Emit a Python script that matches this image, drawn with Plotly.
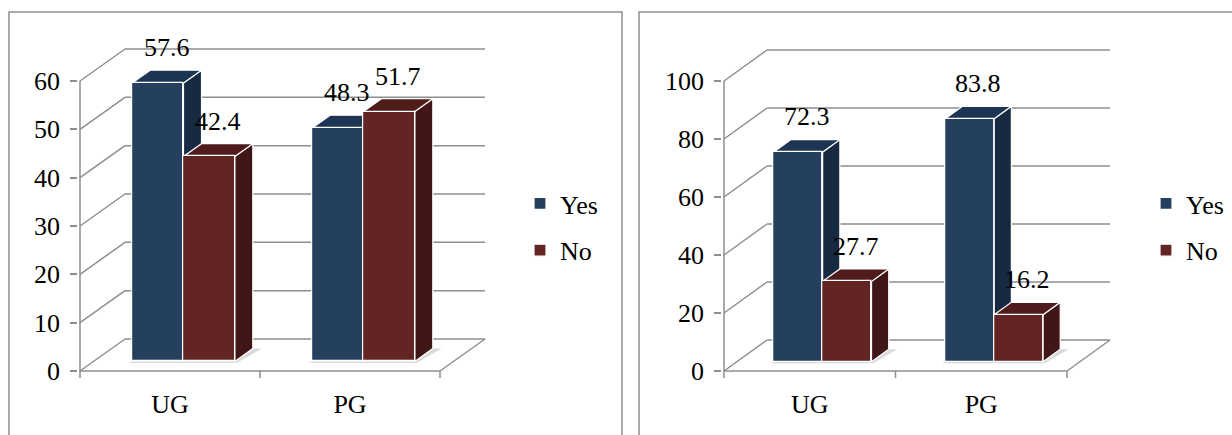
import plotly.graph_objects as go

W, H = 1232, 435

# ---- data -------------------------------------------------------------
categories = ["UG", "PG"]
series_names = ["Yes", "No"]

left_yes = [57.6, 48.3]
left_no = [42.4, 51.7]
left_ticks = [0, 10, 20, 30, 40, 50, 60]

right_yes = [72.3, 83.8]
right_no = [27.7, 16.2]
right_ticks = [0, 20, 40, 60, 80, 100]

# ---- style ------------------------------------------------------------
FONT = "Liberation Serif"
GRID = "#8e8e8e"
FRONT = {"Yes": "#25405f", "No": "#632523"}
TOP = {"Yes": "#1e3453", "No": "#4f1c1b"}
SIDE = {"Yes": "#172a42", "No": "#411616"}
FONT_SIZE = 26
TEXT_FONT = dict(family=FONT, size=FONT_SIZE, color="black")

fig = go.Figure()
shapes = []
annotations = []
layout_axes = {}


def line(xa, ya, x0, y0, x1, y1, width=1.5, color=GRID):
    return dict(type="line", xref=xa, yref=ya, x0=x0, y0=y0, x1=x1, y1=y1,
                line=dict(color=color, width=width), layer="below")


def poly(xa, ya, pts, fill):
    path = "M " + " L ".join(f"{x},{y}" for x, y in pts) + " Z"
    return dict(type="path", xref=xa, yref=ya, path=path, fillcolor=fill,
                line=dict(color="white", width=1.2), layer="below")


def panel(idx, yes, no, ticks, x0px, sx, y0px, sy, dxpx, dypx, legend_name, legend_x):
    """A pseudo-3D clustered column chart on its own pair of axes."""
    xa = "x" if idx == 1 else f"x{idx}"
    ya = "y" if idx == 1 else f"y{idx}"
    DX = dxpx / sx          # depth offset along x (category units)
    DY = dypx / sy          # depth offset along y (value units)
    f, d = 0.30, 0.40       # front position / thickness of columns in depth
    bw = 0.285              # column width
    dxb, dyb = d * DX, d * DY
    base = f * DY
    ncat = len(categories)

    u0, u1 = -0.01, 2.35
    v0 = -(381 - y0px) / sy
    v1 = (y0px - 20) / sy
    layout_axes["xaxis" + ("" if idx == 1 else str(idx))] = dict(
        domain=[(x0px + u0 * sx) / W, (x0px + u1 * sx) / W],
        range=[u0, u1], anchor=ya,
        tickvals=[c + 0.5 for c in range(ncat)], ticktext=categories,
        ticks="", showgrid=False, zeroline=False, showline=False,
        tickfont=TEXT_FONT, ticklabelstandoff=5, fixedrange=True, automargin=False,
    )
    layout_axes["yaxis" + ("" if idx == 1 else str(idx))] = dict(
        domain=[1 - (y0px - v0 * sy) / H, 1 - (y0px - v1 * sy) / H],
        range=[v0, v1], anchor=xa,
        tickvals=ticks, ticks="outside", ticklen=7, tickwidth=1.5, tickcolor=GRID,
        showgrid=False, zeroline=False, showline=False,
        tickfont=TEXT_FONT, ticklabelstandoff=5, fixedrange=True, automargin=False,
    )

    top_v = ticks[-1]
    # side wall diagonals + back wall gridlines
    for t in ticks:
        shapes.append(line(xa, ya, 0, t, DX, t + DY))
        shapes.append(line(xa, ya, DX, t + DY, ncat + DX, t + DY))
    # front value axis and floor
    shapes.append(line(xa, ya, 0, 0, 0, top_v))
    shapes.append(line(xa, ya, 0, 0, ncat, 0))
    shapes.append(line(xa, ya, ncat, 0, ncat + DX, DY))
    for c in range(ncat + 1):
        shapes.append(line(xa, ya, c, 0, c, -7 / sy))

    # soft floor shadow under each pair of columns
    for c in range(ncat):
        xl = c + 0.5 + f * DX - bw
        xr = c + 0.5 + f * DX + bw
        shapes.append(dict(
            type="path", xref=xa, yref=ya, layer="below",
            path=(f"M {xl - 0.02},{base - 1.5 / sy} L {xr + 0.01},{base - 1.5 / sy} "
                  f"L {xr + dxb + 0.05},{base + dyb} L {xr + dxb},{base + dyb} "
                  f"L {xr},{base} L {xl},{base} Z"),
            fillcolor="rgba(150,150,150,0.35)", line=dict(width=0),
        ))

    # columns: side and top faces as paths, front faces as bar traces
    series = [("Yes", yes), ("No", no)]
    for c in range(ncat):
        for j, (name, vals) in enumerate(series):
            v = vals[c]
            xc = c + 0.5 + f * DX + (j - 0.5) * bw
            xl, xr = xc - bw / 2, xc + bw / 2
            ytop = base + v
            shapes.append(poly(xa, ya, [(xr, base), (xr + dxb, base + dyb),
                                        (xr + dxb, ytop + dyb), (xr, ytop)], SIDE[name]))
            shapes.append(poly(xa, ya, [(xl, ytop), (xr, ytop),
                                        (xr + dxb, ytop + dyb), (xl + dxb, ytop + dyb)], TOP[name]))
            annotations.append(dict(
                xref=xa, yref=ya, x=xc + dxb / 2, y=ytop + dyb / 2, yshift=29,
                text=f"{v:.1f}", showarrow=False, font=TEXT_FONT,
            ))

    for j, (name, vals) in enumerate(series):
        xs = [c + 0.5 + f * DX + (j - 0.5) * bw for c in range(ncat)]
        fig.add_trace(go.Bar(
            x=xs, y=vals, base=[base] * ncat, width=bw,
            marker=dict(color=FRONT[name], line=dict(color="white", width=1.2)),
            name=name, legend=legend_name, legendgroup=f"{legend_name}-{name}",
            xaxis=xa, yaxis=ya, hoverinfo="skip",
        ))

    return dict(
        x=legend_x, y=1 - 180 / H, xanchor="left", yanchor="top",
        font=TEXT_FONT, tracegroupgap=10, bgcolor="rgba(0,0,0,0)",
        itemclick=False, itemdoubleclick=False,
    )


leg1 = panel(1, left_yes, left_no, left_ticks, 80, 180, 371, 290 / 60, 45, 32,
             "legend", 520 / W)
leg2 = panel(2, right_yes, right_no, right_ticks, 724, 171.5, 371, 2.9, 43, 31,
             "legend2", 1146 / W)

# chart area borders
for x0, x1 in [(9 / W, 622 / W), (639 / W, 1.05)]:
    shapes.append(dict(type="rect", xref="paper", yref="paper",
                       x0=x0, x1=x1, y0=-0.05, y1=1 - 12 / H,
                       line=dict(color=GRID, width=1.5), fillcolor="rgba(0,0,0,0)",
                       layer="below"))

fig.update_layout(
    width=W, height=H,
    margin=dict(l=0, r=0, t=0, b=0),
    paper_bgcolor="white", plot_bgcolor="white",
    showlegend=True, legend=leg1, legend2=leg2,
    shapes=shapes, annotations=annotations,
    barmode="overlay", bargap=0,
    **layout_axes,
)

fig.write_html("out.html")
